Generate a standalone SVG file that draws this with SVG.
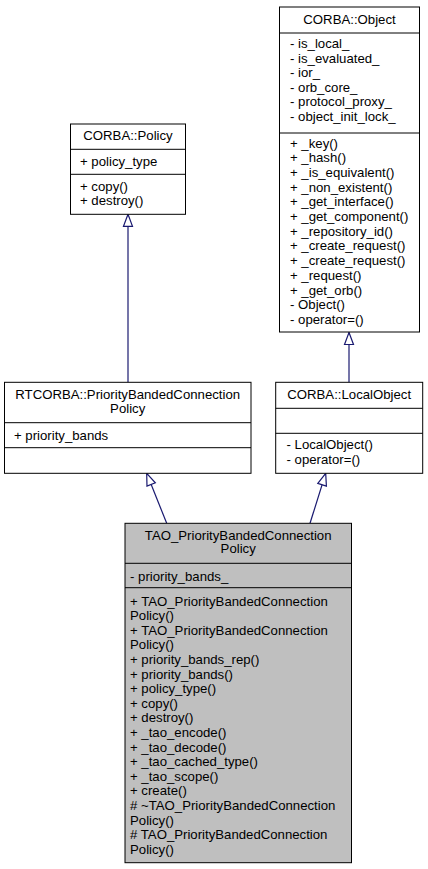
<svg xmlns="http://www.w3.org/2000/svg" width="428" height="869" viewBox="0 0 428 869">
<style>
text{font-family:"Liberation Sans",Arial,Helvetica,sans-serif;font-size:13.2px;fill:#000}
.c{text-anchor:middle}
.box{fill:#fff;stroke:#000;stroke-width:1}
.cur{fill:#bfbfbf;stroke:#000;stroke-width:1}
.sep{stroke:#000;stroke-width:1}
.edge{fill:none;stroke:#191970;stroke-width:1.2}
</style>
<defs>
<marker id="inh" markerUnits="userSpaceOnUse" markerWidth="14" markerHeight="12" refX="12" refY="0" viewBox="-1 -6 14 12" orient="auto" overflow="visible">
<path d="M0,-4.5 L12,0 L0,4.5 Z" fill="#fff" stroke="#191970" stroke-width="1.2"/>
</marker>
</defs>
<rect width="428" height="869" fill="#fff"/>
<g id="edges">
<path class="edge" d="M128,382.3 L128,214.3" marker-end="url(#inh)"/>
<path class="edge" d="M349,382.3 L349,332.5" marker-end="url(#inh)"/>
<path class="edge" d="M166.7,523.3 L146.7,473.3" marker-end="url(#inh)"/>
<path class="edge" d="M310,523.3 L325.7,473.3" marker-end="url(#inh)"/>
</g>
<g id="CORBA_Object">
<rect class="box" x="279.5" y="7" width="140" height="325"/>
<line class="sep" x1="279.5" y1="33" x2="419.5" y2="33"/>
<line class="sep" x1="279.5" y1="133" x2="419.5" y2="133"/>
<text class="c" x="349.5" y="24">CORBA::Object</text>
<text x="290" y="48">- is_local_</text>
<text x="290" y="62.5">- is_evaluated_</text>
<text x="290" y="77">- ior_</text>
<text x="290" y="91.5">- orb_core_</text>
<text x="290" y="106">- protocol_proxy_</text>
<text x="290" y="120.5">- object_init_lock_</text>
<text x="290" y="147.5">+ _key()</text>
<text x="290" y="162.2">+ _hash()</text>
<text x="290" y="176.9">+ _is_equivalent()</text>
<text x="290" y="191.6">+ _non_existent()</text>
<text x="290" y="206.3">+ _get_interface()</text>
<text x="290" y="221">+ _get_component()</text>
<text x="290" y="235.7">+ _repository_id()</text>
<text x="290" y="250.4">+ _create_request()</text>
<text x="290" y="265.1">+ _create_request()</text>
<text x="290" y="279.8">+ _request()</text>
<text x="290" y="294.5">+ _get_orb()</text>
<text x="290" y="309.2">- Object()</text>
<text x="290" y="323.9">- operator=()</text>
</g>
<g id="CORBA_Policy">
<rect class="box" x="70.5" y="124" width="115" height="90.3"/>
<line class="sep" x1="70.5" y1="149.3" x2="185.5" y2="149.3"/>
<line class="sep" x1="70.5" y1="174.3" x2="185.5" y2="174.3"/>
<text class="c" x="128" y="139.5">CORBA::Policy</text>
<text x="80" y="165.5">+ policy_type</text>
<text x="80" y="191">+ copy()</text>
<text x="80" y="205">+ destroy()</text>
</g>
<g id="RTCORBA_PriorityBandedConnectionPolicy">
<rect class="box" x="4.5" y="382.3" width="246.5" height="91"/>
<line class="sep" x1="4.5" y1="422.7" x2="251" y2="422.7"/>
<line class="sep" x1="4.5" y1="447.7" x2="251" y2="447.7"/>
<text class="c" x="127.7" y="398.5">RTCORBA::PriorityBandedConnection</text>
<text class="c" x="127.7" y="413">Policy</text>
<text x="14" y="439.5">+ priority_bands</text>
</g>
<g id="CORBA_LocalObject">
<rect class="box" x="275.7" y="382.3" width="147" height="91"/>
<line class="sep" x1="275.7" y1="408.3" x2="422.7" y2="408.3"/>
<line class="sep" x1="275.7" y1="433.3" x2="422.7" y2="433.3"/>
<text class="c" x="349.2" y="399">CORBA::LocalObject</text>
<text x="286.5" y="448.8">- LocalObject()</text>
<text x="286.5" y="463.5">- operator=()</text>
</g>
<g id="TAO_PriorityBandedConnectionPolicy">
<rect class="cur" x="125" y="523.3" width="226.5" height="339.4"/>
<line class="sep" x1="125" y1="563.3" x2="351.5" y2="563.3"/>
<line class="sep" x1="125" y1="587.7" x2="351.5" y2="587.7"/>
<text class="c" x="238.2" y="539.5">TAO_PriorityBandedConnection</text>
<text class="c" x="238.2" y="553">Policy</text>
<text x="130" y="581">- priority_bands_</text>
<text x="130" y="605.5">+ TAO_PriorityBandedConnection</text>
<text x="130" y="620.1">Policy()</text>
<text x="130" y="634.7">+ TAO_PriorityBandedConnection</text>
<text x="130" y="649.3">Policy()</text>
<text x="130" y="663.9">+ priority_bands_rep()</text>
<text x="130" y="678.5">+ priority_bands()</text>
<text x="130" y="693.1">+ policy_type()</text>
<text x="130" y="707.7">+ copy()</text>
<text x="130" y="722.3">+ destroy()</text>
<text x="130" y="736.9">+ _tao_encode()</text>
<text x="130" y="751.5">+ _tao_decode()</text>
<text x="130" y="766.1">+ _tao_cached_type()</text>
<text x="130" y="780.7">+ _tao_scope()</text>
<text x="130" y="795.3">+ create()</text>
<text x="130" y="809.9"># ~TAO_PriorityBandedConnection</text>
<text x="130" y="824.5">Policy()</text>
<text x="130" y="839.1"># TAO_PriorityBandedConnection</text>
<text x="130" y="853.7">Policy()</text>
</g>
</svg>
